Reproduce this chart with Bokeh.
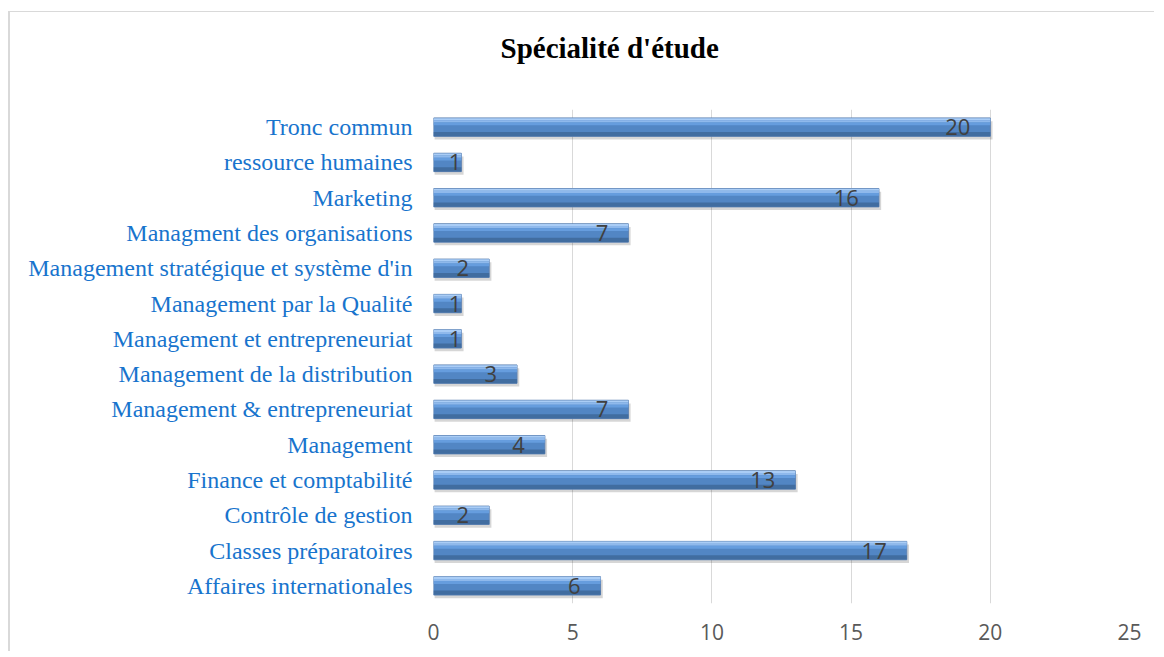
from bokeh.plotting import figure
from bokeh.models import ColumnDataSource, FactorRange, Range1d, FixedTicker, Title
from bokeh.transform import dodge
from bokeh.embed import file_html
from bokeh.resources import INLINE
from bokeh.core.properties import value

# ---- data (bottom to top, as drawn) ----
categories = [
    "Affaires internationales",
    "Classes préparatoires",
    "Contrôle de gestion",
    "Finance et comptabilité",
    "Management",
    "Management & entrepreneuriat",
    "Management de la distribution",
    "Management et entrepreneuriat",
    "Management par la Qualité",
    "Management stratégique et système d'in",
    "Managment des organisations",
    "Marketing",
    "ressource humaines",
    "Tronc commun",
]
counts = [6, 17, 2, 13, 4, 7, 3, 1, 1, 2, 7, 16, 1, 20]
x_ticks = [0, 5, 10, 15, 20, 25]
title_text = "Spécialité d'étude"

src = ColumnDataSource(dict(
    cat=categories,
    v=counts,
    lab=[str(c) for c in counts],
    xo=[-20 if c > 1 else 0 for c in counts],
    sh=[c + 0.08 for c in counts],
))

p = figure(
    width=1146, height=640,
    y_range=FactorRange(factors=categories, range_padding=0),
    x_range=Range1d(0, 25),
    output_backend="svg", toolbar_location=None,
    min_border_left=423, min_border_right=27,
    min_border_top=97, min_border_bottom=49,
)
p.styles = {"border-left": "2px solid #d9d9d9", "border-top": "1px solid #d9d9d9",
            "margin-top": "11px", "margin-left": "8px"}

p.title.text = title_text
p.title.text_font = "Liberation Serif"
p.title.text_font_size = "29px"
p.title.text_font_style = "bold"
p.title.text_color = "#000000"
p.title.align = "left"
p.title.offset = 67
p.title.standoff = 34

# invisible spacer between the title and the plot area
p.add_layout(Title(text=" ", text_font_size="1px", standoff=26), "above")

p.outline_line_color = None
p.background_fill_color = "white"
p.border_fill_color = "white"

# grids
p.ygrid.grid_line_color = None
p.xgrid.grid_line_color = "#d9d9d9"
p.xgrid.grid_line_width = 1
p.xgrid.ticker = FixedTicker(ticks=x_ticks)

# axes
p.xaxis.ticker = FixedTicker(ticks=x_ticks)
p.xaxis.axis_line_color = None
p.xaxis.major_tick_line_color = None
p.xaxis.minor_tick_line_color = None
p.xaxis.major_tick_out = 0
p.xaxis.major_label_standoff = 20
p.xaxis.major_label_text_font = "Open Sans"
p.xaxis.major_label_text_font_size = "21px"
p.xaxis.major_label_text_color = "#595959"

p.yaxis.axis_line_color = None
p.yaxis.major_tick_line_color = None
p.yaxis.major_tick_out = 0
p.yaxis.major_label_standoff = 21
p.yaxis.major_label_text_font = "Liberation Serif"
p.yaxis.major_label_text_font_size = "24px"
p.yaxis.major_label_text_color = "#1874cd"

H = 0.52
# shadow
p.hbar(y=dodge("cat", -0.09, range=p.y_range), right="sh", left=0.04, height=H,
       source=src, fill_color="#000000", fill_alpha=0.16, line_color=None)
# base bar
p.hbar(y="cat", right="v", left=0, height=H, source=src,
       fill_color="#5286c4", line_color="#5f83b3", line_width=1)
# upper highlight stripes
p.hbar(y=dodge("cat", 0.225, range=p.y_range), right="v", left=0, height=0.06, source=src,
       fill_color="#aacdf6", line_color=None)
p.hbar(y=dodge("cat", 0.165, range=p.y_range), right="v", left=0, height=0.06, source=src,
       fill_color="#8fb9ec", line_color=None)
p.hbar(y=dodge("cat", 0.095, range=p.y_range), right="v", left=0, height=0.08, source=src,
       fill_color="#669dde", line_color=None)
# lower dark band
p.hbar(y=dodge("cat", -0.195, range=p.y_range), right="v", left=0, height=0.12, source=src,
       fill_color="#416d a0".replace(" ", ""), line_color=None)

# value labels
p.text(x="v", y="cat", text="lab", x_offset="xo", source=src,
       text_align="right", text_baseline="middle",
       text_font=value("Open Sans"), text_font_size="22px", text_color="#404040")

open("out.html", "w").write(file_html(p, INLINE))
